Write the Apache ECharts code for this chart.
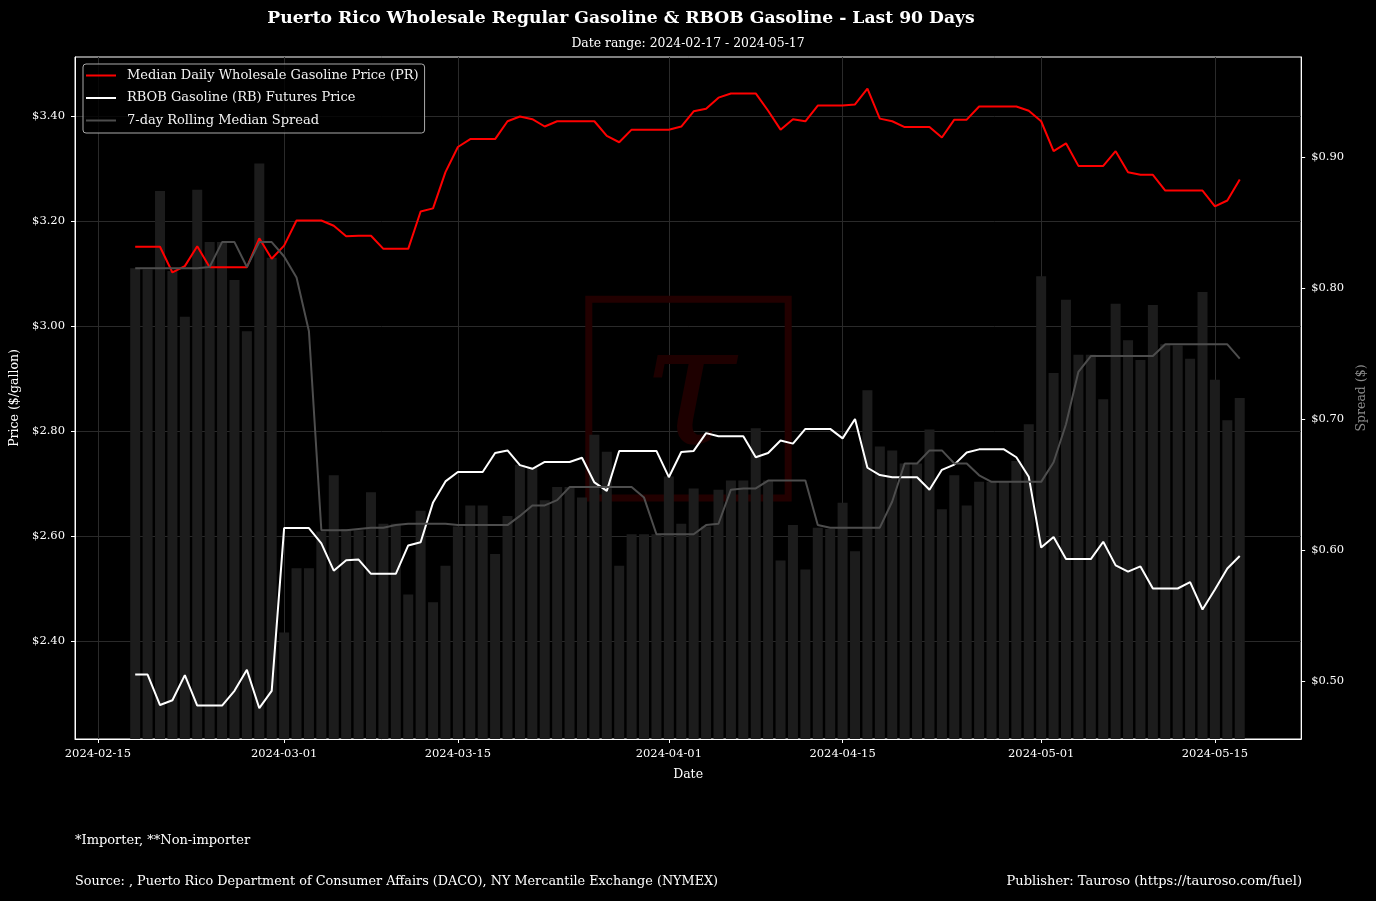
<!DOCTYPE html>
<html>
<head>
<meta charset="utf-8">
<script src="https://cdn.jsdelivr.net/npm/echarts@6/dist/echarts.min.js"></script>
<style>
html,body{margin:0;padding:0;background:#000;}
#chart{width:1376px;height:901px;}
</style>
</head>
<body>
<div id="chart"></div>
<script>
// ---- data ----
const firstDay = '2024-02-18';
const dayCount = 90;

const prPrice = [
  3.151, 3.151, 3.151, 3.102, 3.114, 3.152, 3.112, 3.112, 3.112, 3.112,
  3.167, 3.128, 3.153, 3.201, 3.201, 3.201, 3.191, 3.171, 3.172, 3.172,
  3.147, 3.147, 3.147, 3.218, 3.224, 3.293, 3.341, 3.356, 3.356, 3.356,
  3.390, 3.399, 3.394, 3.380, 3.390, 3.390, 3.390, 3.390, 3.362, 3.350,
  3.374, 3.374, 3.374, 3.374, 3.380, 3.409, 3.414, 3.435, 3.443, 3.443,
  3.443, 3.410, 3.374, 3.394, 3.390, 3.420, 3.420, 3.420, 3.422, 3.452,
  3.395, 3.390, 3.379, 3.379, 3.379, 3.359, 3.393, 3.393, 3.418, 3.418,
  3.418, 3.418, 3.410, 3.390, 3.333, 3.348, 3.305, 3.305, 3.305, 3.333,
  3.293, 3.288, 3.288, 3.258, 3.258, 3.258, 3.258, 3.228, 3.239, 3.279
];

const rbPrice = [
  2.336, 2.336, 2.278, 2.287, 2.335, 2.277, 2.277, 2.277, 2.305, 2.345,
  2.272, 2.305, 2.615, 2.615, 2.615, 2.586, 2.534, 2.554, 2.555, 2.528,
  2.528, 2.528, 2.582, 2.588, 2.664, 2.704, 2.722, 2.722, 2.722, 2.758,
  2.763, 2.735, 2.728, 2.741, 2.741, 2.741, 2.749, 2.702, 2.686, 2.762,
  2.762, 2.762, 2.762, 2.712, 2.760, 2.762, 2.796, 2.790, 2.790, 2.790,
  2.750, 2.758, 2.782, 2.776, 2.804, 2.804, 2.804, 2.786, 2.823, 2.730,
  2.716, 2.712, 2.712, 2.712, 2.688, 2.726, 2.736, 2.759, 2.765, 2.765,
  2.765, 2.750, 2.713, 2.578, 2.598, 2.556, 2.556, 2.556, 2.589, 2.544,
  2.532, 2.542, 2.500, 2.500, 2.500, 2.512, 2.460, 2.498, 2.538, 2.562
];

const dailySpread = [
  0.815, 0.814, 0.874, 0.813, 0.778, 0.875, 0.835, 0.835, 0.806, 0.767,
  0.895, 0.823, 0.537, 0.586, 0.586, 0.614, 0.657, 0.616, 0.615, 0.644,
  0.620, 0.620, 0.566, 0.630, 0.560, 0.588, 0.618, 0.634, 0.634, 0.597,
  0.626, 0.665, 0.663, 0.638, 0.648, 0.648, 0.640, 0.688, 0.675, 0.588,
  0.612, 0.612, 0.612, 0.656, 0.620, 0.647, 0.618, 0.646, 0.653, 0.653,
  0.693, 0.653, 0.592, 0.619, 0.585, 0.617, 0.616, 0.636, 0.599, 0.722,
  0.679, 0.676, 0.666, 0.666, 0.692, 0.631, 0.657, 0.634, 0.652, 0.652,
  0.652, 0.668, 0.696, 0.809, 0.735, 0.791, 0.749, 0.749, 0.715, 0.788,
  0.760, 0.745, 0.787, 0.757, 0.756, 0.746, 0.797, 0.730, 0.699, 0.716
];

const rollingSpread = [
  0.815, 0.815, 0.815, 0.815, 0.815, 0.815, 0.816, 0.835, 0.835, 0.816,
  0.835, 0.835, 0.824, 0.808, 0.767, 0.615, 0.615, 0.615, 0.616, 0.617,
  0.617, 0.619, 0.620, 0.620, 0.620, 0.620, 0.619, 0.619, 0.619, 0.619,
  0.619, 0.626, 0.634, 0.634, 0.638, 0.648, 0.648, 0.648, 0.648, 0.648,
  0.648, 0.640, 0.612, 0.612, 0.612, 0.612, 0.619, 0.620, 0.646, 0.647,
  0.647, 0.653, 0.653, 0.653, 0.653, 0.619, 0.617, 0.617, 0.617, 0.617,
  0.617, 0.637, 0.666, 0.666, 0.676, 0.676, 0.666, 0.666, 0.657, 0.652,
  0.652, 0.652, 0.652, 0.652, 0.667, 0.696, 0.736, 0.748, 0.748, 0.748,
  0.748, 0.748, 0.748, 0.757, 0.757, 0.757, 0.757, 0.757, 0.757, 0.746
];

const xTickLabels = ['2024-02-15', '2024-03-01', '2024-03-15', '2024-04-01', '2024-04-15', '2024-05-01', '2024-05-15'];
const priceTicks = [2.40, 2.60, 2.80, 3.00, 3.20, 3.40];
const spreadTicks = [0.50, 0.60, 0.70, 0.80, 0.90];

const seriesNames = [
  'Median Daily Wholesale Gasoline Price (PR)',
  'RBOB Gasoline (RB) Futures Price',
  '7-day Rolling Median Spread'
];

// ---- helpers ----
function toTime(s, addDays) {
  const p = s.split('-').map(Number);
  return new Date(p[0], p[1] - 1, p[2] + (addDays || 0)).getTime();
}
function pad(n) { return (n < 10 ? '0' : '') + n; }
function fmtDate(v) {
  const d = new Date(Math.round(v));
  return d.getFullYear() + '-' + pad(d.getMonth() + 1) + '-' + pad(d.getDate());
}

const dates = [];
for (let i = 0; i < dayCount; i++) dates.push(toTime(firstDay, i));
const xTickValues = xTickLabels.map(s => toTime(s));
const DAY = 86400000;
const xMin = dates[0] - 4.85 * DAY;
const xMax = dates[dates.length - 1] + 4.95 * DAY;

const pair = arr => arr.map((v, i) => [dates[i], v]);

const FONT = '"DejaVu Serif", serif';
const chart = echarts.init(document.getElementById('chart'), null, {renderer: 'canvas'});

const option = {
  backgroundColor: '#000000',
  animation: false,
  textStyle: {fontFamily: FONT},
  grid: {
    left: 75, right: 74, top: 57, bottom: 162,
    show: true, borderColor: '#ffffff', borderWidth: 1, backgroundColor: 'transparent'
  },
  legend: {
    data: seriesNames,
    orient: 'vertical',
    left: 83, top: 64,
    padding: [4, 6, 5, 3],
    itemGap: 7.5,
    itemWidth: 30,
    itemHeight: 2,
    icon: 'rect',
    backgroundColor: 'rgba(0,0,0,0.8)',
    borderColor: '#aaaaaa',
    borderWidth: 1,
    borderRadius: 3,
    selectedMode: false,
    textStyle: {color: '#f2f2f2', fontSize: 13, fontFamily: FONT, lineHeight: 15, padding: [0, 0, 0, 6]}
  },
  xAxis: {
    type: 'value',
    min: xMin, max: xMax,
    name: 'Date',
    nameLocation: 'middle',
    nameGap: 29,
    nameTextStyle: {color: '#ffffff', fontSize: 12.5, fontFamily: FONT},
    axisLine: {show: true, onZero: false, lineStyle: {color: '#ffffff', width: 1}},
    axisTick: {show: true, length: 4, customValues: xTickValues, lineStyle: {color: '#ffffff'}},
    axisLabel: {customValues: xTickValues, formatter: fmtDate, color: '#ffffff', fontSize: 11.5, margin: 9, fontFamily: FONT, hideOverlap: false},
    splitLine: {show: true, lineStyle: {color: '#2a2a2a', width: 1}}
  },
  yAxis: [
    {
      type: 'value', position: 'left',
      min: 2.2133, max: 3.5124,
      name: 'Price ($/gallon)', nameLocation: 'middle', nameRotate: 90, nameGap: 50,
      nameTextStyle: {color: '#ffffff', fontSize: 12.5, fontFamily: FONT},
      axisLine: {show: true, lineStyle: {color: '#ffffff'}},
      axisTick: {show: true, length: 4, customValues: priceTicks, lineStyle: {color: '#ffffff'}},
      axisLabel: {customValues: priceTicks, formatter: v => '$' + v.toFixed(2), color: '#ffffff', fontSize: 11.5, margin: 10, fontFamily: FONT},
      splitLine: {show: true, lineStyle: {color: '#2a2a2a', width: 1}}
    },
    {
      type: 'value', position: 'right',
      min: 0.4557, max: 0.9763,
      name: 'Spread ($)', nameLocation: 'middle', nameRotate: 90, nameGap: 50,
      nameTextStyle: {color: '#8a8a8a', fontSize: 12.5, fontFamily: FONT},
      axisLine: {show: true, lineStyle: {color: '#ffffff'}},
      axisTick: {show: true, length: 4, customValues: spreadTicks, lineStyle: {color: '#ffffff'}},
      axisLabel: {customValues: spreadTicks, formatter: v => '$' + v.toFixed(2), color: '#ffffff', fontSize: 11.5, margin: 10, fontFamily: FONT},
      splitLine: {show: false}
    }
  ],
  graphic: [
    {type: 'rect', z: 1, silent: true, shape: {x: 588.8, y: 299.3, width: 199.4, height: 198.6},
     style: {fill: 'none', stroke: '#220000', lineWidth: 7}},
    {type: 'text', z: 1, silent: true, x: 689, y: 400,
     style: {text: 'τ', fill: '#1e0000', font: 'italic 170px "DejaVu Serif"', align: 'center', verticalAlign: 'middle'}},
    {type: 'text', x: 621, y: 19,
     style: {text: 'Puerto Rico Wholesale Regular Gasoline & RBOB Gasoline - Last 90 Days', fill: '#ffffff',
             font: 'bold 17.2px "DejaVu Serif"', align: 'center', verticalAlign: 'middle'}},
    {type: 'text', x: 688, y: 44,
     style: {text: 'Date range: 2024-02-17 - 2024-05-17', fill: '#ffffff',
             font: '12.4px "DejaVu Serif"', align: 'center', verticalAlign: 'middle'}},
    {type: 'text', x: 75, y: 841,
     style: {text: '*Importer, **Non-importer', fill: '#ffffff', font: '13px "DejaVu Serif"', align: 'left', verticalAlign: 'middle'}},
    {type: 'text', x: 75, y: 882,
     style: {text: 'Source: , Puerto Rico Department of Consumer Affairs (DACO), NY Mercantile Exchange (NYMEX)', fill: '#ffffff',
             font: '12.8px "DejaVu Serif"', align: 'left', verticalAlign: 'middle'}},
    {type: 'text', x: 1302, y: 882,
     style: {text: 'Publisher: Tauroso (https://tauroso.com/fuel)', fill: '#ffffff',
             font: '13px "DejaVu Serif"', align: 'right', verticalAlign: 'middle'}}
  ],
  series: [
    {
      name: 'Daily Spread', type: 'bar', yAxisIndex: 1,
      data: pair(dailySpread),
      barWidth: 10, clip: true,
      itemStyle: {color: '#1c1c1c'},
      emphasis: {disabled: true}
    },
    {
      name: seriesNames[0], type: 'line', yAxisIndex: 0,
      data: pair(prPrice), showSymbol: false, color: '#ff0000',
      lineStyle: {color: '#ff0000', width: 2}, emphasis: {disabled: true}
    },
    {
      name: seriesNames[1], type: 'line', yAxisIndex: 0,
      data: pair(rbPrice), showSymbol: false, color: '#ffffff',
      lineStyle: {color: '#ffffff', width: 2}, emphasis: {disabled: true}
    },
    {
      name: seriesNames[2], type: 'line', yAxisIndex: 1,
      data: pair(rollingSpread), showSymbol: false, color: '#4d4d4d',
      lineStyle: {color: '#4d4d4d', width: 2}, emphasis: {disabled: true}
    }
  ]
};
chart.setOption(option);
</script>
</body>
</html>
